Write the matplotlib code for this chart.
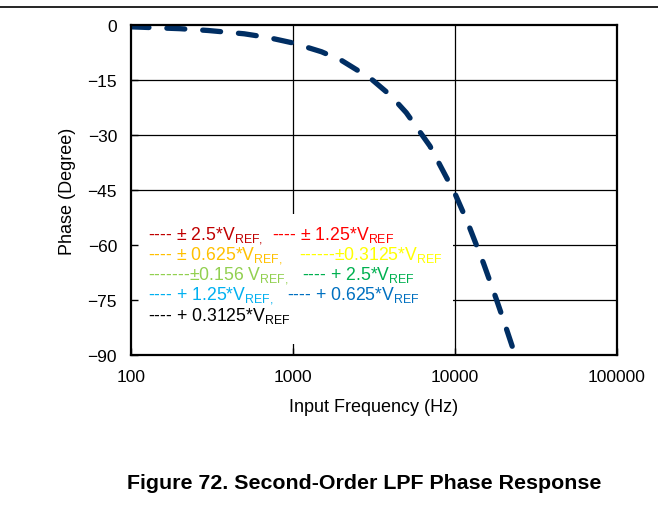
import matplotlib
matplotlib.use("Agg")
import matplotlib.pyplot as plt
from matplotlib.patches import Rectangle
from matplotlib.lines import Line2D

plt.rcParams['font.family'] = ['Liberation Sans', 'DejaVu Sans']
plt.rcParams['mathtext.fontset'] = 'custom'
plt.rcParams['mathtext.rm'] = 'Liberation Sans'

# phase response of the second-order LPF
freq = [100, 200, 300, 500, 700, 1000, 1500, 2000, 3000, 4000, 5000, 7000,
        10000, 12000, 15000, 18000, 20000, 23500, 25000]
phase = [-0.5, -1.0, -1.5, -2.4, -3.4, -4.9, -7.3, -9.7, -14.5, -19.2, -23.9, -33.0,
         -46.0, -54.0, -65.0, -74.8, -80.7, -90.0, -93.5]

xticks = [100, 1000, 10000, 100000]
yticks = [0, -15, -30, -45, -60, -75, -90]

# text legend rows: (label, colour, x px, y px)
legend_items = [
    ("---- ± 2.5*V$\\mathregular{_{REF,}}$", "#C00000", 148, 240),
    ("---- ± 1.25*V$\\mathregular{_{REF}}$", "#FF0000", 272, 240),
    ("---- ± 0.625*V$\\mathregular{_{REF,}}$", "#FFC000", 148, 260),
    ("------±0.3125*V$\\mathregular{_{REF}}$", "#FFFF00", 299, 260),
    ("-------±0.156 V$\\mathregular{_{REF,}}$", "#92D050", 148, 280),
    ("---- + 2.5*V$\\mathregular{_{REF}}$", "#00B050", 302, 280),
    ("---- + 1.25*V$\\mathregular{_{REF,}}$", "#00B0F0", 148, 300),
    ("---- + 0.625*V$\\mathregular{_{REF}}$", "#0070C0", 287, 300),
    ("---- + 0.3125*V$\\mathregular{_{REF}}$", "#000000", 148, 321),
]

W, H = 658, 510
fig = plt.figure(figsize=(W / 100, H / 100), dpi=100)
ax = fig.add_axes([131 / W, (H - 356) / H, 486 / W, 330 / H])

ax.set_xscale('log')
ax.set_xlim(100, 100000)
ax.set_ylim(-90, 0)

# grid drawn as plain lines so the legend box can hide part of it
for x in xticks[1:-1]:
    ax.axvline(x, color='black', lw=0.9, zorder=1)
for y in yticks[1:-1]:
    ax.axhline(y, color='black', lw=0.9, zorder=1)

ax.plot(freq, phase, color='#002E63', lw=3.8, dashes=(3.4, 3.4),
        dash_capstyle='round', zorder=3)

# white box behind the text legend
ax.add_patch(Rectangle((0, (356 - 345) / 330), (453 - 131) / 486, (345 - 215) / 330,
                       transform=ax.transAxes, facecolor='white', edgecolor='none', zorder=2))

for label, color, px, py in legend_items:
    ax.text((px - 131) / 486, (356 - py) / 330, label, color=color, fontsize=12.7,
            transform=ax.transAxes, ha='left', va='baseline', zorder=4)

ax.set_xticks(xticks)
ax.set_xticklabels(['100', '1000', '10000', '100000'])
ax.minorticks_off()
ax.set_yticks(yticks)
ax.set_yticklabels(['0', '\u221215', '\u221230', '\u221245', '\u221260', '\u221275', '\u221290'])
ax.tick_params(direction='in', length=5, width=1, labelsize=12.5, color='black')
ax.tick_params(axis='x', pad=10)
ax.tick_params(axis='y', pad=10)
ax.set_axisbelow(False)

for s in ax.spines.values():
    s.set_linewidth(1.6)
    s.set_zorder(5)

ax.set_xlabel('Input Frequency (Hz)', fontsize=13)
ax.set_ylabel('Phase (Degree)', fontsize=13)
ax.xaxis.set_label_coords((374 - 131) / 486, (356 - 408) / 330)
ax.yaxis.set_label_coords((67 - 131) / 486, 0.5)
ax.xaxis.label.set_va('center')
ax.yaxis.label.set_va('center')

# page rule and caption
fig.add_artist(Line2D([0, 1], [(H - 8) / H, (H - 8) / H], color='black', lw=1.2,
                      transform=fig.transFigure))
fig.text(364 / W, (H - 484) / H, 'Figure 72. Second-Order LPF Phase Response',
         fontsize=15.4, fontweight='bold', ha='center', va='center')

fig.savefig('out.png', dpi=100)
